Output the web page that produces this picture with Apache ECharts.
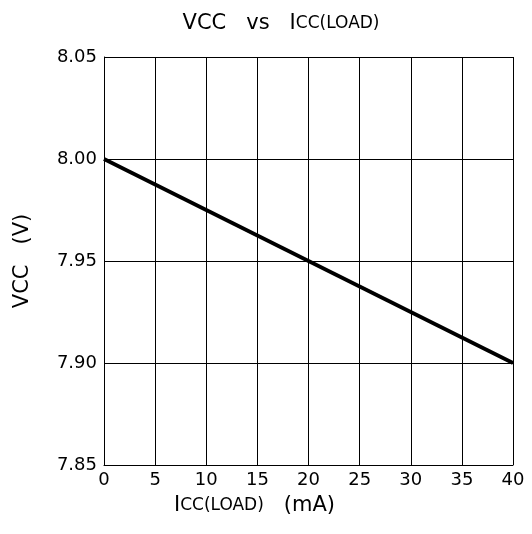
<!DOCTYPE html>
<html><head><meta charset="utf-8">
<script src="https://cdn.jsdelivr.net/npm/echarts@6/dist/echarts.min.js"></script>
<style>html,body{margin:0;padding:0;background:#fff}#c{width:532px;height:534px}</style>
</head><body><div id="c"></div>
<script>
const xTicks = [0, 5, 10, 15, 20, 25, 30, 35, 40];
const yTicks = [7.85, 7.90, 7.95, 8.00, 8.05];
const iccLoad = [0, 40];
const vcc = [8.00, 7.90];

const font = 'DejaVu Sans, sans-serif';
const chart = echarts.init(document.getElementById('c'), null, {renderer: 'canvas'});
chart.setOption({
  backgroundColor: '#fff',
  animation: false,
  title: {
    text: 'VCC   vs   {a|I}{b|CC(LOAD)}',
    left: 276, top: 8, textAlign: 'center',
    textStyle: {
      fontFamily: font, fontSize: 21, fontWeight: 'normal', color: '#000',
      rich: {
        a: {fontFamily: font, fontSize: 21, color: '#000'},
        b: {fontFamily: font, fontSize: 17, color: '#000'}
      }
    }
  },
  grid: {left: 104, right: 19, top: 57, bottom: 69},
  xAxis: {
    type: 'value', min: 0, max: 40, interval: 5,
    name: '{a|I}{b|CC(LOAD)}   (mA)',
    nameLocation: 'middle', nameGap: 30,
    nameTextStyle: {
      fontFamily: font, fontSize: 21, color: '#000', padding: [0, 108, 0, 0],
      rich: {
        a: {fontFamily: font, fontSize: 21, color: '#000'},
        b: {fontFamily: font, fontSize: 17, color: '#000'}
      }
    },
    axisLine: {show: true, lineStyle: {color: '#000', width: 1}},
    axisTick: {show: false},
    axisLabel: {fontFamily: font, fontSize: 18, color: '#000', margin: 6},
    splitLine: {show: true, lineStyle: {color: '#000', width: 1}}
  },
  yAxis: {
    type: 'value', min: 7.85, max: 8.05, interval: 0.05,
    name: 'VCC   (V)',
    nameLocation: 'middle', nameGap: 71, nameRotate: 90,
    nameTextStyle: {fontFamily: font, fontSize: 21, color: '#000'},
    axisLine: {show: true, lineStyle: {color: '#000', width: 1}},
    axisTick: {show: false},
    axisLabel: {fontFamily: font, fontSize: 18, color: '#000', margin: 7,
      formatter: v => v.toFixed(2)},
    splitLine: {show: true, lineStyle: {color: '#000', width: 1}}
  },
  series: [{
    type: 'line',
    data: iccLoad.map((x, i) => [x, vcc[i]]),
    symbol: 'none',
    lineStyle: {color: '#000', width: 3.8},
    clip: false
  }]
});
</script></body></html>
